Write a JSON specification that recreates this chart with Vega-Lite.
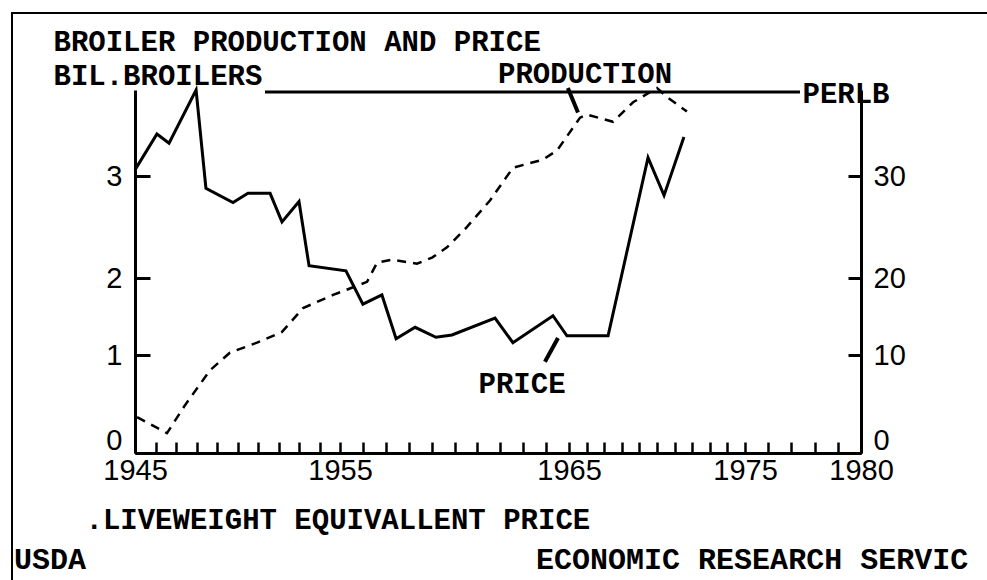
{
  "$schema": "https://vega.github.io/schema/vega-lite/v6.json",
  "autosize": "none",
  "width": 975,
  "height": 567,
  "padding": {"left": 12, "top": 13, "right": 0, "bottom": 0},
  "background": "white",
  "config": {
    "view": {"stroke": "black", "strokeWidth": 2, "strokeDash": [975, 1542, 567, 20]},
    "axis": {"domainColor": "black", "tickColor": "black", "labelColor": "black", "titleColor": "black", "grid": false}
  },
  "title": {
    "text": "USDA\u00a0\u00a0\u00a0\u00a0\u00a0\u00a0\u00a0\u00a0\u00a0\u00a0\u00a0\u00a0\u00a0\u00a0\u00a0\u00a0\u00a0\u00a0\u00a0\u00a0\u00a0\u00a0\u00a0\u00a0\u00a0ECONOMIC RESEARCH SERVIC",
    "orient": "bottom",
    "anchor": "start",
    "frame": "group",
    "offset": -11,
    "dx": 2,
    "font": "Liberation Mono",
    "fontSize": 30,
    "fontWeight": "bold",
    "baseline": "alphabetic",
    "color": "black"
  },
  "datasets": {
    "production": [
      {"year": 1945.10, "bil": 0.27},
      {"year": 1946.56, "bil": 0.08},
      {"year": 1947.44, "bil": 0.41},
      {"year": 1948.66, "bil": 0.82},
      {"year": 1949.63, "bil": 1.03},
      {"year": 1950.95, "bil": 1.16},
      {"year": 1952.17, "bil": 1.30},
      {"year": 1953.20, "bil": 1.61},
      {"year": 1954.66, "bil": 1.78},
      {"year": 1955.57, "bil": 1.88},
      {"year": 1956.18, "bil": 1.95},
      {"year": 1956.62, "bil": 2.15},
      {"year": 1957.27, "bil": 2.18},
      {"year": 1958.36, "bil": 2.14},
      {"year": 1959.02, "bil": 2.20},
      {"year": 1959.67, "bil": 2.30},
      {"year": 1960.46, "bil": 2.48},
      {"year": 1961.55, "bil": 2.76},
      {"year": 1962.55, "bil": 3.08},
      {"year": 1963.86, "bil": 3.16},
      {"year": 1964.48, "bil": 3.25},
      {"year": 1965.63, "bil": 3.57},
      {"year": 1966.02, "bil": 3.60},
      {"year": 1967.50, "bil": 3.53},
      {"year": 1968.64, "bil": 3.72},
      {"year": 1970.00, "bil": 3.86},
      {"year": 1970.57, "bil": 3.77},
      {"year": 1971.70, "bil": 3.63}
    ],
    "price": [
      {"year": 1945.00, "cents": 30.6},
      {"year": 1946.07, "cents": 34.1},
      {"year": 1946.66, "cents": 33.2},
      {"year": 1947.98, "cents": 38.4},
      {"year": 1948.46, "cents": 28.8},
      {"year": 1949.78, "cents": 27.4},
      {"year": 1950.51, "cents": 28.3},
      {"year": 1951.59, "cents": 28.3},
      {"year": 1952.17, "cents": 25.5},
      {"year": 1953.00, "cents": 27.5},
      {"year": 1953.49, "cents": 21.2},
      {"year": 1955.26, "cents": 20.7},
      {"year": 1956.00, "cents": 16.6},
      {"year": 1956.83, "cents": 17.8},
      {"year": 1957.45, "cents": 12.1},
      {"year": 1958.28, "cents": 13.6},
      {"year": 1959.19, "cents": 12.3},
      {"year": 1959.89, "cents": 12.6},
      {"year": 1961.77, "cents": 14.8},
      {"year": 1962.55, "cents": 11.6},
      {"year": 1964.30, "cents": 15.1},
      {"year": 1964.91, "cents": 12.5},
      {"year": 1967.22, "cents": 12.5},
      {"year": 1969.49, "cents": 31.8},
      {"year": 1970.40, "cents": 28.1},
      {"year": 1971.53, "cents": 33.8}
    ]
  },
  "layer": [
    {
      "layer": [
        {
          "data": {"name": "production"},
          "mark": {"type": "line", "color": "black", "strokeWidth": 2.5, "strokeDash": [9, 7]},
          "encoding": {
            "x": {
              "field": "year", "type": "quantitative",
              "scale": {"domain": [1945, 1955, 1965, 1975, 1980], "range": [123, 328, 557, 733, 849], "zero": false, "nice": false},
              "axis": {
                "orient": "bottom", "offset": -127,
                "values": [1945, 1955, 1965, 1975, 1980],
                "format": "d", "ticks": false, "domainWidth": 3,
                "labelFont": "Liberation Sans", "labelFontSize": 29, "labelPadding": 3,
                "labelOverlap": false, "labelFlush": false, "labelBound": false,
                "title": ".LIVEWEIGHT EQUIVALLENT PRICE",
                "titleX": 73, "titleY": 75, "titleAlign": "left", "titleBaseline": "alphabetic",
                "titleFont": "Liberation Mono", "titleFontSize": 29, "titleFontWeight": "bold"
              }
            },
            "y": {
              "field": "bil", "type": "quantitative",
              "scale": {"domain": [-0.153, 0, 1, 2, 3, 3.84], "range": [440, 427, 342, 265, 163, 77], "zero": false, "nice": false},
              "axis": {
                "orient": "right", "offset": -852,
                "values": [0, 1, 2, 3], "format": "d",
                "ticks": true, "tickSize": 15, "tickWidth": 3,
                "tickOpacity": {"condition": {"test": "datum.value == 0", "value": 0}, "value": 1},
                "domainWidth": 3,
                "labelFont": "Liberation Sans", "labelFontSize": 29, "labelAlign": "right", "labelPadding": -28,
                "labelOverlap": false, "labelBound": false, "labelFlush": false,
                "title": ["BROILER PRODUCTION AND PRICE", "BIL.BROILERS"],
                "titleX": -82, "titleY": 37, "titleAngle": 0, "titleAlign": "left", "titleBaseline": "alphabetic",
                "titleFont": "Liberation Mono", "titleFontSize": 29, "titleFontWeight": "bold", "titleLineHeight": 34
              }
            }
          }
        },
        {
          "data": {"values": [{}]},
          "mark": {"type": "rule", "color": "black", "strokeWidth": 3},
          "encoding": {
            "x": {"datum": 1951.34, "type": "quantitative", "axis": null},
            "x2": {"datum": 1977.37},
            "y": {"datum": 3.82, "type": "quantitative", "axis": null}
          }
        },
        {
          "data": {"values": [{}]},
          "mark": {"type": "rule", "color": "black", "strokeWidth": 4},
          "encoding": {
            "x": {"datum": 1964.95, "type": "quantitative", "axis": null},
            "x2": {"datum": 1965.51},
            "y": {"datum": 3.86, "type": "quantitative", "axis": null},
            "y2": {"datum": 3.62}
          }
        },
        {
          "data": {"values": [{}]},
          "mark": {"type": "text", "text": "PRODUCTION", "font": "Liberation Mono", "fontSize": 29, "fontWeight": "bold", "color": "black", "align": "center", "baseline": "alphabetic"},
          "encoding": {
            "x": {"datum": 1965.91, "type": "quantitative", "axis": null},
            "y": {"datum": 3.91, "type": "quantitative", "axis": null}
          }
        }
      ],
      "resolve": {"axis": {"x": "independent", "y": "independent"}}
    },
    {
      "layer": [
        {
          "data": {"name": "price"},
          "mark": {"type": "line", "color": "black", "strokeWidth": 3},
          "encoding": {
            "x": {
              "field": "year", "type": "quantitative",
              "axis": {
                "orient": "top", "offset": -440,
                "values": [1945,1946,1947,1948,1949,1950,1951,1952,1953,1954,1955,1956,1957,1958,1959,1960,1961,1962,1963,1964,1965,1966,1967,1968,1969,1970,1971,1972,1973,1974,1975,1976,1977,1978,1979,1980],
                "domain": true, "domainWidth": 3, "labels": false, "ticks": true, "tickSize": 11, "tickWidth": 2.5, "title": null
              }
            },
            "y": {
              "field": "cents", "type": "quantitative",
              "scale": {"domain": [-1.53, 0, 10, 20, 30, 38.4], "range": [440, 427, 342, 265, 163, 77], "zero": false, "nice": false},
              "axis": {
                "orient": "left", "offset": -849,
                "values": [0, 10, 20, 30], "format": "d",
                "ticks": true, "tickSize": 13, "tickWidth": 3,
                "tickOpacity": {"condition": {"test": "datum.value == 0", "value": 0}, "value": 1},
                "domainWidth": 3,
                "labelFont": "Liberation Sans", "labelFontSize": 29, "labelAlign": "left", "labelPadding": -25,
                "labelOverlap": false, "labelBound": false, "labelFlush": false,
                "title": "PERLB",
                "titleX": -59, "titleY": 89, "titleAngle": 0, "titleAlign": "left", "titleBaseline": "alphabetic",
                "titleFont": "Liberation Mono", "titleFontSize": 29, "titleFontWeight": "bold"
              }
            }
          }
        },
        {
          "data": {"values": [{}]},
          "mark": {"type": "rule", "color": "black", "strokeWidth": 4},
          "encoding": {
            "x": {"datum": 1964.52, "type": "quantitative", "axis": null},
            "x2": {"datum": 1963.95},
            "y": {"datum": 12.2, "type": "quantitative", "axis": null},
            "y2": {"datum": 9.2}
          }
        },
        {
          "data": {"values": [{}]},
          "mark": {"type": "text", "text": "PRICE", "font": "Liberation Mono", "fontSize": 29, "fontWeight": "bold", "color": "black", "align": "center", "baseline": "alphabetic"},
          "encoding": {
            "x": {"datum": 1962.95, "type": "quantitative", "axis": null},
            "y": {"datum": 5.5, "type": "quantitative", "axis": null}
          }
        }
      ],
      "resolve": {"axis": {"x": "independent", "y": "independent"}}
    }
  ],
  "resolve": {"scale": {"y": "independent"}, "axis": {"x": "independent", "y": "independent"}}
}
